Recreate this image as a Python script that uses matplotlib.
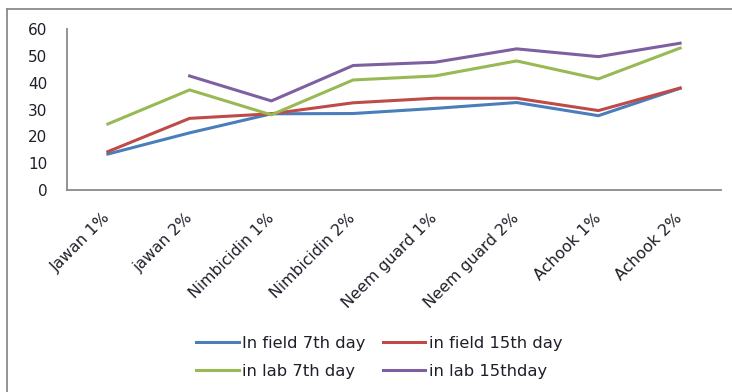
import numpy as np
import matplotlib
matplotlib.use('Agg')
import matplotlib.pyplot as plt
from matplotlib.lines import Line2D

plt.rcParams['font.family'] = ['DejaVu Sans']

categories = ['Jawan 1%', 'jawan 2%', 'Nimbicidin 1%', 'Nimbicidin 2%',
              'Neem guard 1%', 'Neem guard 2%', 'Achook 1%', 'Achook 2%']

field_7th = [13.4, 21.3, 28.4, 28.5, 30.4, 32.6, 27.7, 37.9]
field_15th = [14.3, 26.7, 28.4, 32.5, 34.2, 34.2, 29.6, 38.0]
lab_7th = [24.6, 37.3, 28.0, 41.0, 42.5, 48.1, 41.4, 52.9]
lab_15th = [np.nan, 42.5, 33.2, 46.4, 47.6, 52.6, 49.7, 54.7]

series = [
    ('In field 7th day', field_7th, '#4A7EBB'),
    ('in field 15th day', field_15th, '#BE4B48'),
    ('in lab 7th day', lab_7th, '#98B954'),
    ('in lab 15thday', lab_15th, '#7D60A0'),
]

TEXT_COLOR = '#1f1f2a'
AXIS_GRAY = '#8a8a8a'

fig = plt.figure(figsize=(7.32, 3.92), dpi=100)
ax = fig.add_axes([67 / 732, 1 - 190 / 392, (721 - 67) / 732, 161 / 392])

x = np.arange(len(categories))
handles = []
for label, vals, color in series:
    h, = ax.plot(x, vals, color=color, lw=2.2, label=label, solid_joinstyle='round')
    handles.append(h)

ax.set_xlim(-0.5, len(categories) - 0.5)
ax.set_ylim(0, 60)
ax.set_yticks(range(0, 61, 10))
ax.set_xticks(x)
ax.set_xticklabels(categories, rotation=45, ha='right', va='center',
                   rotation_mode='anchor', fontsize=11.3)
ax.tick_params(axis='both', length=0, colors=TEXT_COLOR)
ax.tick_params(axis='y', pad=14, labelsize=11)
ax.tick_params(axis='x', pad=18.5)

for side in ['top', 'right']:
    ax.spines[side].set_visible(False)
for side in ['left', 'bottom']:
    ax.spines[side].set_color(AXIS_GRAY)
    ax.spines[side].set_linewidth(1.3)

# row-major legend order: column 1 gets entries 0 and 2
leg_order = [0, 2, 1, 3]
fig.legend(handles=[handles[i] for i in leg_order], ncol=2, loc='center',
           bbox_to_anchor=(0.518, 0.089), frameon=False, fontsize=11.8,
           handlelength=2.6, handletextpad=0.2, columnspacing=1.05,
           labelspacing=0.78, labelcolor=TEXT_COLOR)

# outer chart border (only top and left visible in the crop)
fig.add_artist(Line2D([7 / 732, 7 / 732], [0, 1 - 9 / 392], color=AXIS_GRAY, lw=1.3))
fig.add_artist(Line2D([7 / 732, 1], [1 - 9 / 392, 1 - 9 / 392], color=AXIS_GRAY, lw=1.3))

fig.savefig('out.png', dpi=100)
